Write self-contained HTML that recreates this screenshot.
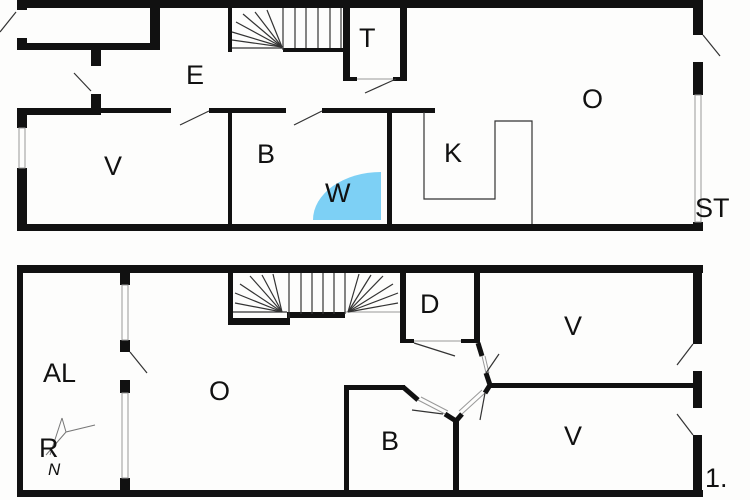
<!DOCTYPE html><html><head><style>body{margin:0;background:#fff}svg{display:block}text{font-family:"Liberation Sans",sans-serif;fill:#111}</style></head><body>
<svg width="750" height="500" viewBox="0 0 750 500" xmlns="http://www.w3.org/2000/svg">
<rect width="750" height="500" fill="#fdfdfc"/>
<g fill="#111">
<rect x="17" y="0" width="686" height="8"/>
<rect x="693" y="0" width="10" height="35"/>
<rect x="693" y="62" width="10" height="33"/>
<rect x="693" y="222" width="10" height="9"/>
<rect x="17" y="224" width="686" height="7"/>
<rect x="17" y="0" width="10" height="10"/>
<rect x="17" y="38" width="10" height="12"/>
<rect x="17" y="43" width="143" height="7"/>
<rect x="150" y="0" width="10" height="50"/>
<rect x="91" y="50" width="10" height="16"/>
<rect x="91" y="94" width="10" height="19"/>
<rect x="17" y="108" width="84" height="7"/>
<rect x="17" y="108" width="10" height="20"/>
<rect x="17" y="168" width="10" height="63"/>
<rect x="101" y="108" width="70" height="5"/>
<rect x="209" y="108" width="77" height="5"/>
<rect x="322" y="108" width="113" height="5"/>
<rect x="228" y="0" width="4" height="52"/>
<rect x="283" y="48" width="62" height="4"/>
<rect x="343" y="0" width="7" height="81"/>
<rect x="400" y="0" width="7" height="81"/>
<rect x="343" y="77" width="14" height="4"/>
<rect x="393" y="77" width="14" height="4"/>
<rect x="228" y="112" width="4" height="119"/>
<rect x="387" y="112" width="5" height="119"/>
<rect x="17" y="265" width="686" height="8"/>
<rect x="17" y="490" width="686" height="7"/>
<rect x="17" y="265" width="6" height="232"/>
<rect x="693" y="265" width="9" height="79"/>
<rect x="693" y="371" width="9" height="37"/>
<rect x="693" y="435" width="9" height="62"/>
<rect x="120" y="273" width="10" height="12"/>
<rect x="120" y="340" width="10" height="12"/>
<rect x="120" y="380" width="10" height="13"/>
<rect x="120" y="478" width="10" height="19"/>
<rect x="228" y="273" width="5" height="52"/>
<rect x="228" y="318" width="62" height="7"/>
<rect x="287" y="312" width="58" height="6"/>
<rect x="400" y="273" width="6" height="70"/>
<rect x="474" y="273" width="6" height="70"/>
<rect x="400" y="339" width="14" height="4"/>
<rect x="461" y="339" width="19" height="4"/>
<rect x="490" y="383" width="203" height="5"/>
<rect x="344" y="385" width="5" height="112"/>
<rect x="344" y="385" width="61" height="5"/>
<rect x="453" y="420" width="6" height="77"/>
</g>
<g stroke="#111" fill="none">
<polyline points="403,387 418,400" stroke-width="5"/>
<polyline points="478,343 482,356" stroke-width="5"/>
<polyline points="486,373 490,385 485,393" stroke-width="5"/>
<polyline points="445,414 456,421 462,414" stroke-width="5"/>
</g>
<g stroke="#999" stroke-width="1" fill="none">
<line x1="418" y1="400" x2="445" y2="414"/><line x1="421" y1="397" x2="448" y2="411"/>
<line x1="482" y1="356" x2="486" y2="373"/><line x1="485" y1="356" x2="489" y2="373"/>
<line x1="462" y1="414" x2="485" y2="393"/><line x1="459" y1="411" x2="482" y2="390"/>
<line x1="414" y1="341" x2="461" y2="341"/>
<line x1="357" y1="79" x2="393" y2="79"/>
<rect x="19" y="128" width="6" height="40"/>
<rect x="695" y="95" width="6" height="127"/>
<rect x="122" y="285" width="6" height="55"/>
<rect x="122" y="393" width="6" height="85"/>
<line x1="345" y1="312" x2="400" y2="312"/>
</g>
<g stroke="#333" stroke-width="1.2" fill="none">
<line x1="16" y1="12" x2="0" y2="32"/>
<line x1="91" y1="91" x2="74" y2="73"/>
<line x1="209" y1="111" x2="180" y2="125"/>
<line x1="322" y1="111" x2="294" y2="125"/>
<line x1="396" y1="79" x2="365" y2="93"/>
<line x1="703" y1="35" x2="720" y2="56"/>
<polyline points="424,112 424,199 495,199 495,121 532,121 532,224"/>
<line x1="130" y1="352" x2="147" y2="373"/>
<line x1="414" y1="343" x2="455" y2="356"/>
<line x1="486" y1="373" x2="499" y2="354"/>
<line x1="485" y1="393" x2="480" y2="420"/>
<line x1="443" y1="414" x2="412" y2="410"/>
<line x1="693" y1="344" x2="677" y2="365"/>
<line x1="693" y1="435" x2="677" y2="414"/>
<line x1="283" y1="8" x2="283" y2="50"/><line x1="295" y1="8" x2="295" y2="48"/><line x1="306" y1="8" x2="306" y2="48"/><line x1="318" y1="8" x2="318" y2="48"/><line x1="330" y1="8" x2="330" y2="48"/><line x1="341" y1="8" x2="341" y2="48"/>
<line x1="232" y1="48" x2="283" y2="48"/>
<line x1="282" y1="47" x2="232" y2="40"/><line x1="282" y1="47" x2="232" y2="32"/><line x1="282" y1="47" x2="236" y2="22"/><line x1="282" y1="47" x2="243" y2="14"/><line x1="282" y1="47" x2="255" y2="12"/><line x1="282" y1="47" x2="267" y2="10"/>
<line x1="289" y1="273" x2="289" y2="318"/><line x1="301" y1="273" x2="301" y2="314"/><line x1="312" y1="273" x2="312" y2="314"/><line x1="323" y1="273" x2="323" y2="314"/><line x1="334" y1="273" x2="334" y2="314"/><line x1="345" y1="273" x2="345" y2="314"/>
<line x1="233" y1="312" x2="287" y2="312"/>
<line x1="282" y1="312" x2="235" y2="303"/><line x1="282" y1="312" x2="235" y2="293"/><line x1="282" y1="312" x2="240" y2="284"/><line x1="282" y1="312" x2="250" y2="276"/><line x1="282" y1="312" x2="262" y2="275"/><line x1="282" y1="312" x2="273" y2="274"/>
<line x1="348" y1="312" x2="398" y2="303"/><line x1="348" y1="312" x2="398" y2="293"/><line x1="348" y1="312" x2="393" y2="284"/><line x1="348" y1="312" x2="383" y2="276"/><line x1="348" y1="312" x2="371" y2="275"/><line x1="348" y1="312" x2="359" y2="274"/>
</g>
<path d="M381,220 L313,220 A68,48 0 0 1 381,172 Z" fill="#7dd0f5"/>
<g stroke="#777" stroke-width="1" fill="none"><polyline points="62,418 66,432 95,425 66,432 46,455 66,432"/><line x1="62" y1="418" x2="50" y2="455"/></g>
<g font-size="27">
<text x="186" y="84">E</text><text x="359" y="47">T</text><text x="582" y="108">O</text>
<text x="104" y="175">V</text><text x="257" y="163">B</text><text x="325" y="202">W</text>
<text x="444" y="162">K</text><text x="695" y="217">ST</text>
<text x="420" y="313">D</text><text x="564" y="335">V</text><text x="43" y="382">AL</text>
<text x="209" y="400">O</text><text x="381" y="450">B</text><text x="564" y="445">V</text>
<text x="39" y="457">R</text><text x="705" y="487">1.</text>
</g>
<text x="48" y="475" font-size="17" font-style="italic">N</text>
</svg>
</body></html>
